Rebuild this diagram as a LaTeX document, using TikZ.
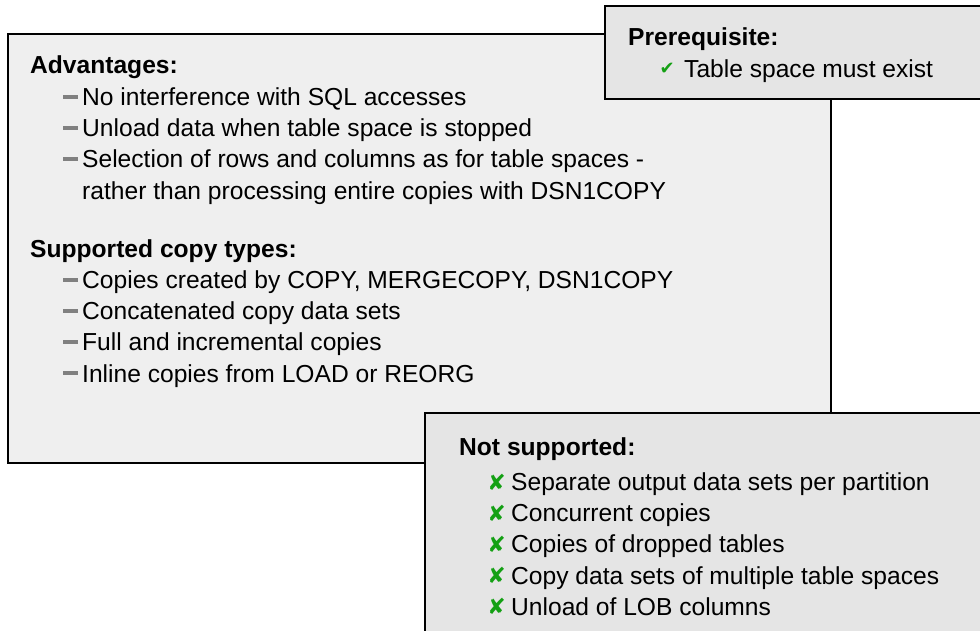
\documentclass[tikz,border=0pt]{standalone}
\usepackage{fontspec}
\setmainfont{Liberation Sans}
\newfontfamily\symfont{DejaVu Sans}
\usepackage{tikz}
\usetikzlibrary{positioning}
\definecolor{panelgray}{RGB}{239,239,239}
\definecolor{notegray}{RGB}{229,229,229}
\definecolor{bargray}{RGB}{128,128,128}
\definecolor{okgreen}{RGB}{20,160,20}
\newcommand{\txtsize}{\fontsize{24.6}{29}\selectfont}
\tikzset{panel/.style={draw=black,line width=2pt,fill=panelgray,inner sep=0pt,anchor=north west},
	 note/.style={panel,fill=notegray},
	 head/.style={font=\txtsize\bfseries,inner sep=0pt,anchor=west,text height=17.5pt,text depth=0pt},
	 entry/.style={font=\txtsize,inner sep=0pt,text height=17.5pt,text depth=0pt,minimum height=30.7pt},
	 bar/.style={fill=bargray,inner sep=0pt,minimum width=15pt,minimum height=4pt,label distance=4pt},
	 tick/.style={font=\symfont\fontsize{18}{18}\selectfont,text=okgreen,inner sep=0pt},
	 cross/.style={font=\symfont\fontsize{22}{22}\selectfont,text=okgreen,inner sep=0pt},
	 barentry/.style={entry,label={[bar]left:{}}},
	 okentry/.style={entry,label={[tick,label distance=9pt]left:✔}},
	 noentry/.style={entry,label={[cross,label distance=5pt]left:✘}}
	 }

\begin{document}
\begin{tikzpicture}[x=1pt,y=-1pt]% UNLOAD from image copies
        \useasboundingbox (0,0) rectangle (980,631);
        \node[panel,minimum width=823pt,minimum height=429pt] (advbox) at (7,33) {};
        \node[head] (adv) at (30,65) {Advantages:};
        \node[barentry,anchor=west] (adv1) at (82,97) {No interference with SQL accesses};
        \node[barentry] (adv2) [below=0pt of adv1.south west,anchor=north west] {Unload data when table space is stopped};
        \node[barentry] (adv3) [below=0pt of adv2.south west,anchor=north west] {Selection of rows and columns as for table spaces -};
        \node[entry] (adv3b) [below=0pt of adv3.south west,anchor=north west] {rather than processing entire copies with DSN1COPY};
        \node[head] (sup) at (30,249) {Supported copy types:};
        \node[barentry,anchor=west] (sup1) at (82,280) {Copies created by COPY, MERGECOPY, DSN1COPY};
        \node[barentry] (sup2) [below=0pt of sup1.south west,anchor=north west] {Concatenated copy data sets};
        \node[barentry] (sup3) [below=0pt of sup2.south west,anchor=north west] {Full and incremental copies};
        \node[barentry] (sup4) [below=0pt of sup3.south west,anchor=north west] {Inline copies from LOAD or REORG};

        \node[note,minimum width=400pt,minimum height=93pt] (prebox) at (604,5) {};
        \node[head] (pre) at (628,37) {Prerequisite:};
        \node[okentry,anchor=west] (pre1) at (684,69) {Table space must exist};

        \node[note,minimum width=600pt,minimum height=240pt] (notbox) at (424,412) {};
        \node[head] (nots) at (459,447) {Not supported:};
        \node[noentry,anchor=west] (not1) at (511,482) {Separate output data sets per partition};
        \node[noentry] (not2) [below=0pt of not1.south west,anchor=north west] {Concurrent copies};
        \node[noentry] (not3) [below=0pt of not2.south west,anchor=north west] {Copies of dropped tables};
        \node[noentry] (not4) [below=0pt of not3.south west,anchor=north west] {Copy data sets of multiple table spaces};
        \node[noentry] (not5) [below=0pt of not4.south west,anchor=north west] {Unload of LOB columns};
\end{tikzpicture}
\end{document}
